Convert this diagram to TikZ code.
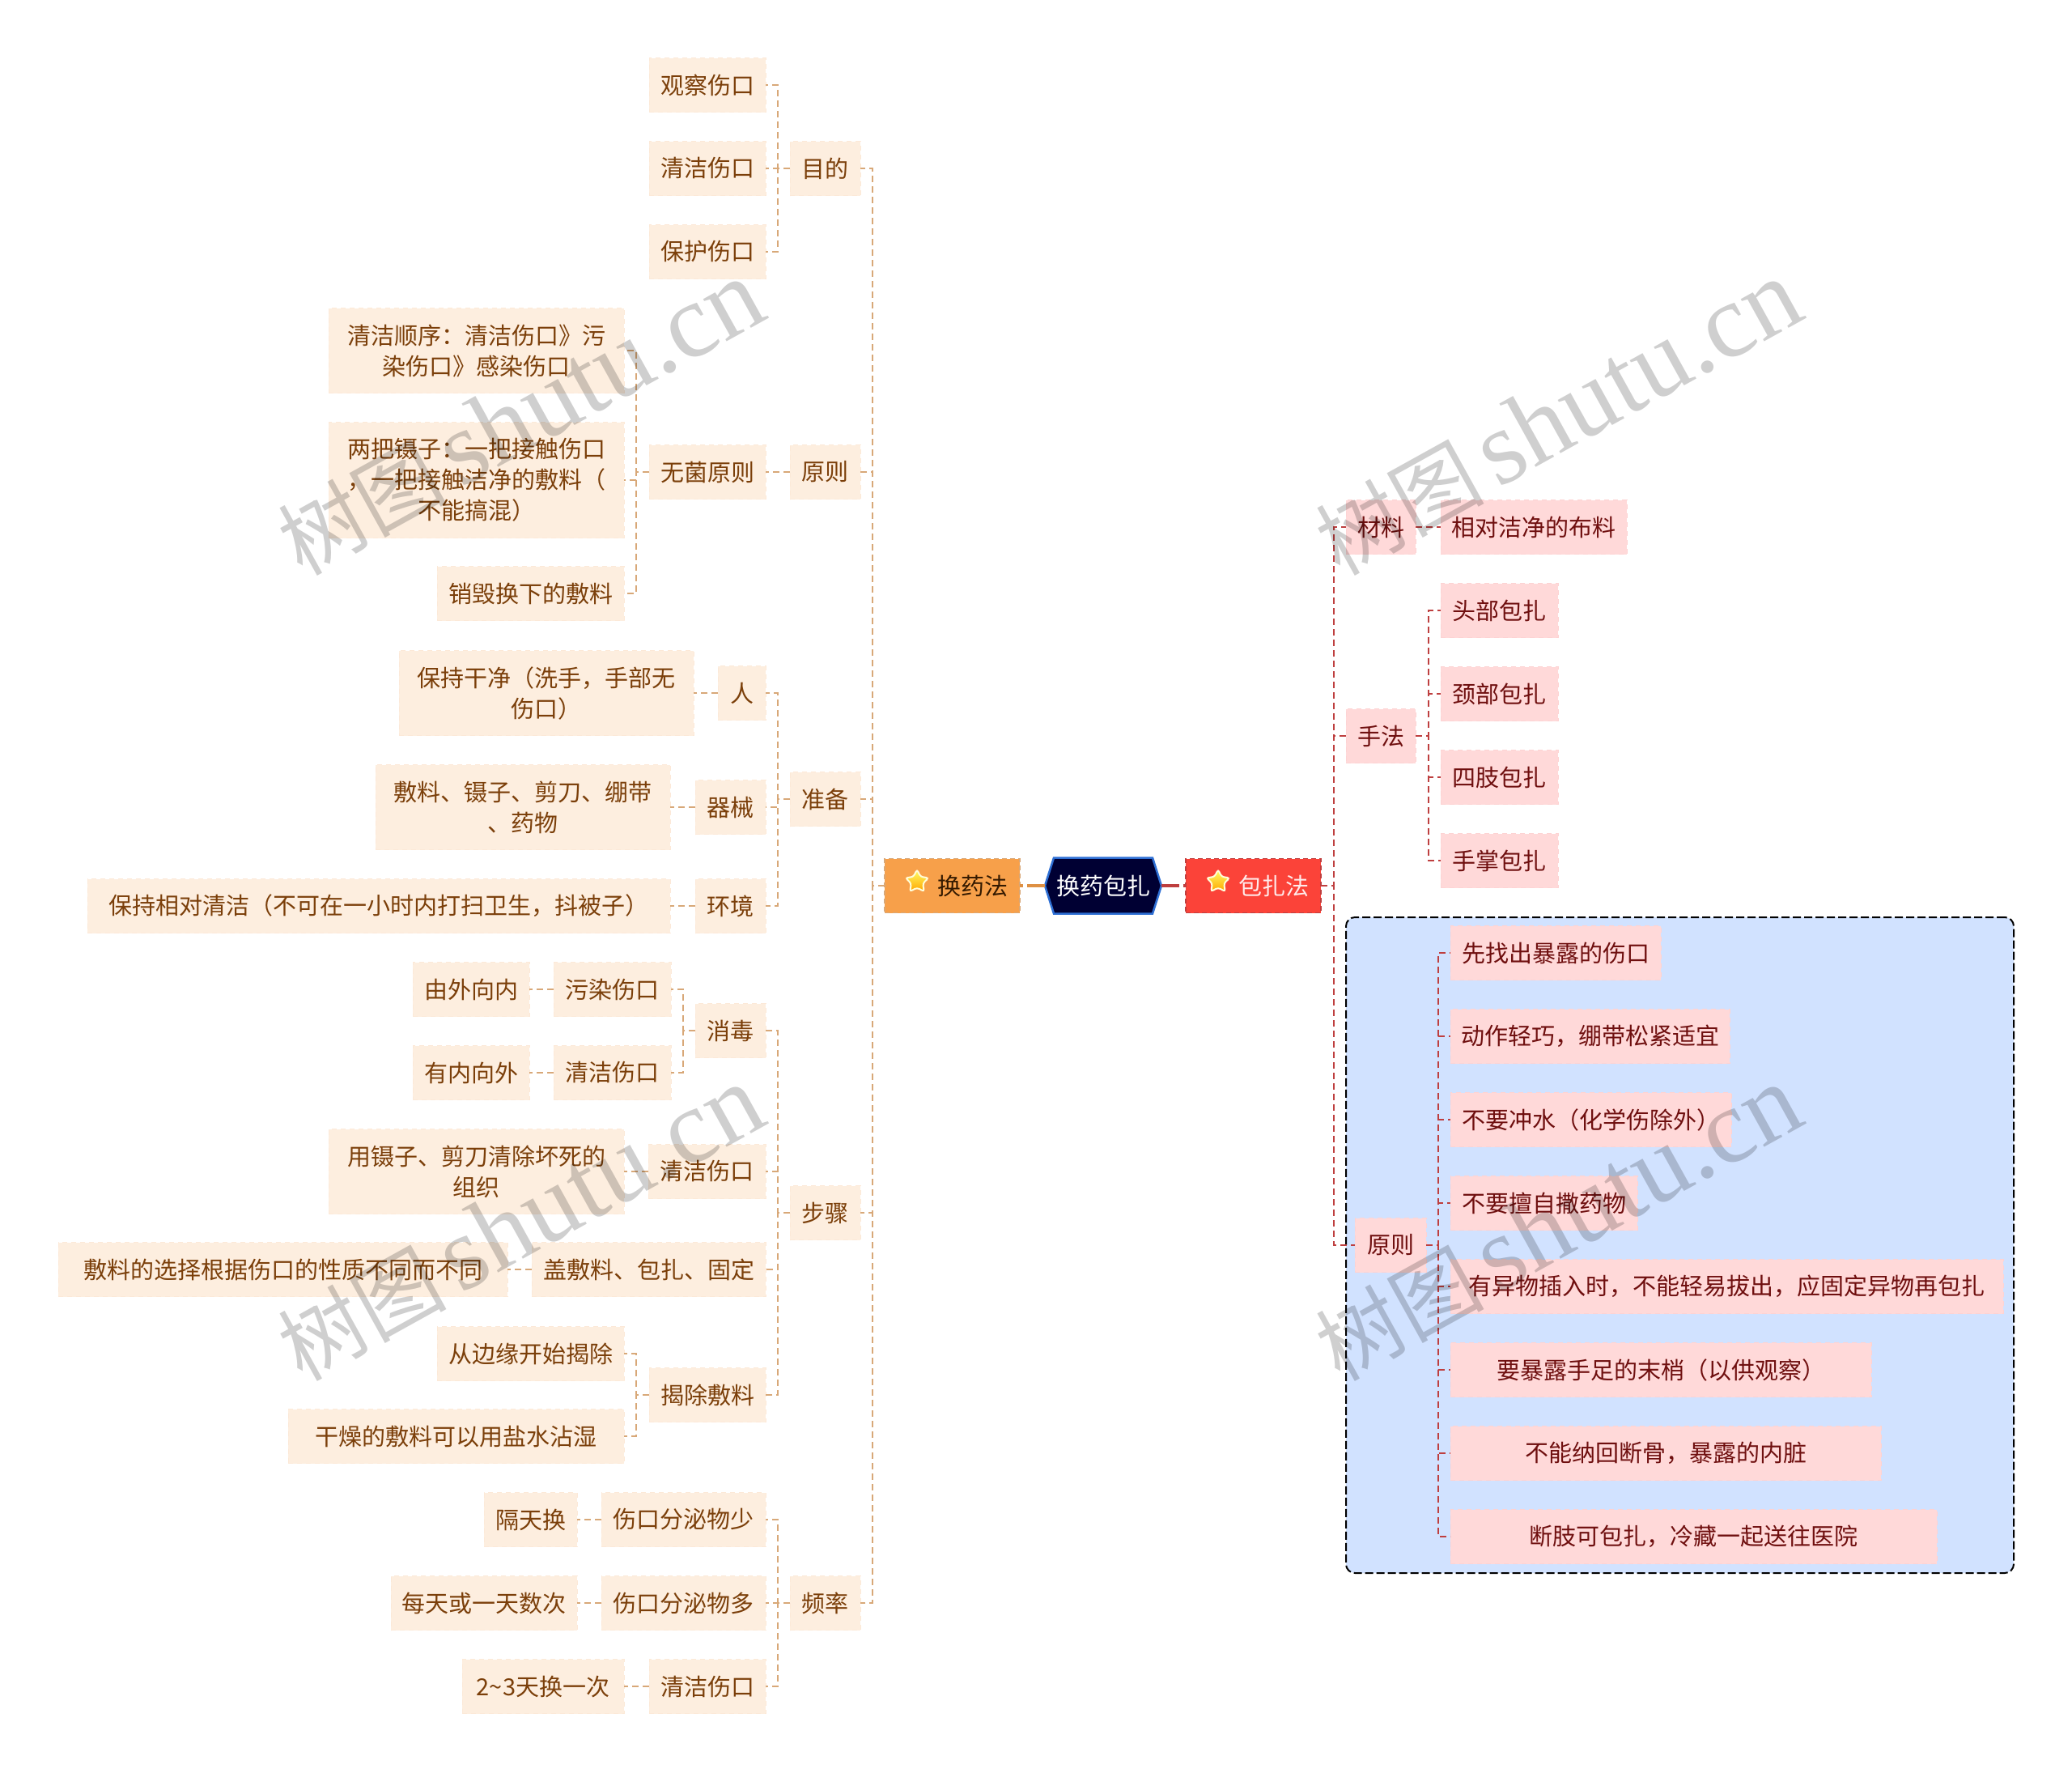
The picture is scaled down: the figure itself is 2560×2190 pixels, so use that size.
\documentclass[tikz,border=0pt]{standalone}
\usepackage{fontspec}
\setmainfont{Noto Sans CJK SC}
\newfontfamily\wmlatin{Liberation Serif}
\usetikzlibrary{shapes.geometric,backgrounds,calc}
\newcommand\fwcomma{\symbol{"FF0C}}
\newcommand\fwcolon{\symbol{"FF1A}}
\newcommand\fwlp{\symbol{"FF08}}
\newcommand\fwrp{\symbol{"FF09}}
\definecolor{pkfill}{HTML}{FDEEDF}
\definecolor{pkline}{HTML}{FCE9D8}
\definecolor{pktext}{HTML}{7B3F0A}
\definecolor{lnL}{HTML}{D8A878}
\definecolor{rdfill}{HTML}{FFD9D9}
\definecolor{rdline}{HTML}{FDD3D3}
\definecolor{rdtext}{HTML}{6F0F0F}
\definecolor{lnR}{HTML}{BE3F3F}
\definecolor{bluebg}{HTML}{D1E2FF}
\definecolor{orangeB}{HTML}{F7A04A}
\definecolor{redB}{HTML}{FB4339}
\definecolor{hexfill}{HTML}{000033}
\definecolor{hexline}{HTML}{2E6FD4}
\tikzset{
  basebox/.style={rectangle,inner sep=0pt,outer sep=0pt,align=center,font=\fontsize{29}{38}\selectfont},
  pk/.style={basebox,fill=pkfill,draw=pkline,line width=1pt,dash pattern=on 6pt off 5pt,text=pktext},
  rd/.style={basebox,fill=rdfill,draw=rdline,line width=1pt,dash pattern=on 6pt off 5pt,text=rdtext},
  orangebox/.style={basebox,fill=orangeB,draw=lnL,line width=1.5pt,dash pattern=on 6pt off 4pt,text=black!80!orange},
  redbox/.style={basebox,fill=redB,draw=lnR,line width=1.5pt,dash pattern=on 6pt off 4pt,text=white!92!red},
  hexbox/.style={basebox,text=white},
  lnl/.style={draw=lnL,line width=1.8pt,dash pattern=on 8pt off 5pt},
  lnr/.style={draw=lnR,line width=1.8pt,dash pattern=on 8pt off 5pt},
  trunkl/.style={draw=orangeB!90!black,line width=3.5pt,dash pattern=on 22pt off 5pt},
  trunkr/.style={draw=lnR,line width=3.5pt,dash pattern=on 22pt off 5pt},
  starmark/.style={star,star points=5,star point ratio=2,inner sep=0pt,minimum size=30pt,
    rounded corners=3pt,top color=yellow!60!white,bottom color=orange!70!yellow,draw=white!85!yellow,line width=2pt},
  wm/.style={rotate=29,text=black,opacity=0.19,inner sep=0pt,font=\fontsize{104}{112}\selectfont},
}
\newcommand\bk[7]{\node[#1,minimum width={#4-#3},minimum height=#6] (#2) at ({(#3+#4)/2},#5) {#7};}
\begin{document}
\begin{tikzpicture}[x=1pt,y=-1pt]
\useasboundingbox (0,0) rectangle (2560,2190);
% blue boundary
\node[draw=black,fill=bluebg,line width=2pt,dash pattern=on 10pt off 4pt,rounded corners=11pt,
  minimum width=825,minimum height=810,inner sep=0pt] (zone) at (2075.5,1538) {};
% centre
\bk{hexbox}{root}{1291}{1435}{1094}{69}{换药包扎}
\begin{scope}[on background layer]
\draw[fill=hexfill,draw=hexline,line width=2.5pt]
  (root.west) -- ($(root.north west)+(11,0)$) -- ($(root.north east)+(-11,0)$) -- (root.east)
  -- ($(root.south east)+(-11,0)$) -- ($(root.south west)+(11,0)$) -- cycle;
\end{scope}
\bk{orangebox}{hy}{1093}{1260}{1094}{67}{\hspace*{51pt}换药法}
\bk{redbox}{bz}{1465}{1632}{1094}{67}{\hspace*{51pt}包扎法}
\node[starmark] (s1) at (1133,1089) {};
\node[starmark] (s2) at (1505,1089) {};
% left level 1
\bk{pk}{mudi}{976}{1063}{208}{67}{目的}
\bk{pk}{yuanze}{976}{1063}{583}{67}{原则}
\bk{pk}{zhunbei}{976}{1063}{987}{67}{准备}
\bk{pk}{buzhou}{976}{1063}{1498}{67}{步骤}
\bk{pk}{pinlv}{976}{1063}{1980}{67}{频率}
% 目的
\bk{pk}{a1}{802}{946}{105}{67}{观察伤口}
\bk{pk}{a2}{802}{946}{208}{67}{清洁伤口}
\bk{pk}{a3}{802}{946}{311}{67}{保护伤口}
% 原则
\bk{pk}{wj}{802}{946}{583}{67}{无菌原则}
\bk{pk}{wj1}{406}{771}{433}{105}{清洁顺序\fwcolon 清洁伤口》污\\染伤口》感染伤口}
\bk{pk}{wj2}{406}{771}{593}{143}{两把镊子\fwcolon 一把接触伤口\\\fwcomma 一把接触洁净的敷料\fwlp\\不能搞混\fwrp}
\bk{pk}{wj3}{540}{771}{733}{67}{销毁换下的敷料}
% 准备
\bk{pk}{ren}{887}{946}{856}{67}{人}
\bk{pk}{ren1}{493}{857}{856}{105}{保持干净\fwlp 洗手\fwcomma 手部无\\伤口\fwrp}
\bk{pk}{qx}{859}{946}{997}{67}{器械}
\bk{pk}{qx1}{464}{828}{997}{105}{敷料、镊子、剪刀、绷带\\、药物}
\bk{pk}{hj}{859}{946}{1119}{67}{环境}
\bk{pk}{hj1}{108}{828}{1119}{67}{保持相对清洁\fwlp 不可在一小时内打扫卫生\fwcomma 抖被子\fwrp}
% 步骤
\bk{pk}{xd}{859}{946}{1273}{67}{消毒}
\bk{pk}{xd1}{684}{829}{1222}{67}{污染伤口}
\bk{pk}{xd1a}{510}{654}{1222}{67}{由外向内}
\bk{pk}{xd2}{684}{829}{1325}{67}{清洁伤口}
\bk{pk}{xd2a}{510}{654}{1325}{67}{有内向外}
\bk{pk}{qj}{801}{946}{1447}{67}{清洁伤口}
\bk{pk}{qj1}{406}{771}{1447}{105}{用镊子、剪刀清除坏死的\\组织}
\bk{pk}{gf}{657}{946}{1568}{67}{盖敷料、包扎、固定}
\bk{pk}{gf1}{72}{627}{1568}{67}{敷料的选择根据伤口的性质不同而不同}
\bk{pk}{jc}{802}{946}{1723}{67}{揭除敷料}
\bk{pk}{jc1}{540}{771}{1672}{67}{从边缘开始揭除}
\bk{pk}{jc2}{356}{771}{1774}{67}{干燥的敷料可以用盐水沾湿}
% 频率
\bk{pk}{p1}{743}{946}{1877}{67}{伤口分泌物少}
\bk{pk}{p1a}{598}{713}{1877}{67}{隔天换}
\bk{pk}{p2}{743}{946}{1980}{67}{伤口分泌物多}
\bk{pk}{p2a}{483}{713}{1980}{67}{每天或一天数次}
\bk{pk}{p3}{802}{946}{2083}{67}{清洁伤口}
\bk{pk}{p3a}{571}{771}{2083}{67}{2\textasciitilde 3天换一次}
% right
\bk{rd}{cl}{1663}{1749}{651}{67}{材料}
\bk{rd}{cl1}{1780}{2010}{651}{67}{相对洁净的布料}
\bk{rd}{sf}{1663}{1749}{909}{67}{手法}
\bk{rd}{sf1}{1780}{1925}{754}{67}{头部包扎}
\bk{rd}{sf2}{1780}{1925}{857}{67}{颈部包扎}
\bk{rd}{sf3}{1780}{1925}{960}{67}{四肢包扎}
\bk{rd}{sf4}{1780}{1925}{1063}{67}{手掌包扎}
\bk{rd}{yz}{1674}{1762}{1538}{67}{原则}
\bk{rd}{y1}{1792}{2052}{1177}{67}{先找出暴露的伤口}
\bk{rd}{y2}{1792}{2137}{1280}{67}{动作轻巧\fwcomma 绷带松紧适宜}
\bk{rd}{y3}{1792}{2139}{1383}{67}{不要冲水\fwlp 化学伤除外\fwrp}
\bk{rd}{y4}{1792}{2023}{1486}{67}{不要擅自撒药物}
\bk{rd}{y5}{1792}{2475}{1589}{67}{有异物插入时\fwcomma 不能轻易拔出\fwcomma 应固定异物再包扎}
\bk{rd}{y6}{1792}{2312}{1692}{67}{要暴露手足的末梢\fwlp 以供观察\fwrp}
\bk{rd}{y7}{1792}{2324}{1795}{67}{不能纳回断骨\fwcomma 暴露的内脏}
\bk{rd}{y8}{1792}{2393}{1898}{67}{断肢可包扎\fwcomma 冷藏一起送往医院}
% buses
\coordinate (tl) at (1078,1094);
\coordinate (tr) at (1648,1094);
\coordinate (bmd) at (961,208);
\coordinate (bwj) at (786,583);
\coordinate (bzb) at (961,987);
\coordinate (bbz) at (961,1498);
\coordinate (bxd) at (844,1273);
\coordinate (bjc) at (786,1723);
\coordinate (bpl) at (961,1980);
\coordinate (bsf) at (1765,909);
\coordinate (byz) at (1777,1538);
% connectors
\draw[trunkl] (root.west) -- (hy.east);
\draw[trunkr] (root.east) -- (bz.west);
\foreach \n in {mudi,yuanze,zhunbei,buzhou,pinlv} \draw[lnl] (hy.west) -- (tl) |- (\n.east);
\foreach \n in {cl,sf,yz} \draw[lnr] (bz.east) -- (tr) |- (\n.west);
\foreach \n in {a1,a2,a3} \draw[lnl] (mudi.west) -- (bmd) |- (\n.east);
\draw[lnl] (yuanze.west) -- (wj.east);
\foreach \n in {wj1,wj2,wj3} \draw[lnl] (wj.west) -- (bwj) |- (\n.east);
\foreach \n in {ren,qx,hj} \draw[lnl] (zhunbei.west) -- (bzb) |- (\n.east);
\draw[lnl] (ren.west) -- (ren1.east);
\draw[lnl] (qx.west) -- (qx1.east);
\draw[lnl] (hj.west) -- (hj1.east);
\foreach \n in {xd,qj,gf,jc} \draw[lnl] (buzhou.west) -- (bbz) |- (\n.east);
\foreach \n in {xd1,xd2} \draw[lnl] (xd.west) -- (bxd) |- (\n.east);
\draw[lnl] (xd1.west) -- (xd1a.east);
\draw[lnl] (xd2.west) -- (xd2a.east);
\draw[lnl] (qj.west) -- (qj1.east);
\draw[lnl] (gf.west) -- (gf1.east);
\foreach \n in {jc1,jc2} \draw[lnl] (jc.west) -- (bjc) |- (\n.east);
\foreach \n in {p1,p2,p3} \draw[lnl] (pinlv.west) -- (bpl) |- (\n.east);
\draw[lnl] (p1.west) -- (p1a.east);
\draw[lnl] (p2.west) -- (p2a.east);
\draw[lnl] (p3.west) -- (p3a.east);
\draw[lnr] (cl.east) -- (cl1.west);
\foreach \n in {sf1,sf2,sf3,sf4} \draw[lnr] (sf.east) -- (bsf) |- (\n.west);
\foreach \n in {y1,y2,y3,y4,y5,y6,y7,y8} \draw[lnr] (yz.east) -- (byz) |- (\n.west);
% watermarks
\foreach \i/\cx/\cy in {1/643/516,2/1925/516,3/643/1511,4/1925/1511}
  \node[wm] (wm\i) at (\cx,\cy) {树图\hspace{16pt}{\wmlatin\fontsize{130}{130}\selectfont shutu.cn}};
\end{tikzpicture}
\end{document}
